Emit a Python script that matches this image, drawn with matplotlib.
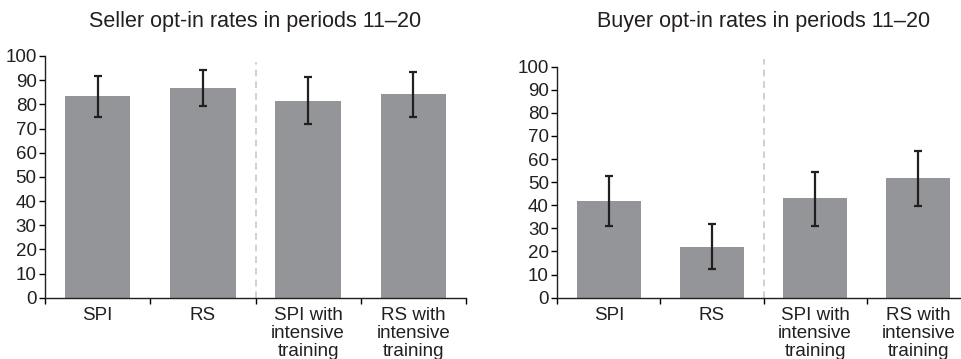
import matplotlib
matplotlib.use('Agg')
import matplotlib.pyplot as plt
import numpy as np

plt.rcParams['font.family'] = ['Liberation Sans', 'DejaVu Sans']

categories = ['SPI', 'RS', 'SPI with\nintensive\ntraining', 'RS with\nintensive\ntraining']

seller_rate = [83.3, 86.6, 81.4, 84.2]
seller_hi = [91.7, 94.1, 91.2, 93.5]
seller_lo = [74.8, 79.3, 71.9, 74.8]

buyer_rate = [41.7, 21.8, 43.0, 51.7]
buyer_hi = [52.7, 31.9, 54.4, 63.5]
buyer_lo = [31.2, 12.4, 31.2, 39.8]

yticks = list(range(0, 101, 10))

barcol = '#939598'
errcol = '#231f20'
W, H = 961, 359

fig = plt.figure(figsize=(W / 100, H / 100), dpi=100)


def panel(rect, rates, hi, lo, title, title_x, dash_top):
    ax = fig.add_axes(rect)
    x = np.arange(len(categories))
    rates = np.array(rates)
    yerr = [rates - np.array(lo), np.array(hi) - rates]
    ax.bar(x, rates, width=0.62, color=barcol, zorder=2)
    ax.errorbar(x, rates, yerr=yerr, fmt='none', ecolor=errcol,
                elinewidth=1.6, capsize=3, capthick=1.6, zorder=3)
    ax.set_xlim(-0.5, 3.5)
    ax.set_ylim(0, 100)
    ax.set_yticks(yticks)
    ax.set_xticks([-0.5, 0.5, 1.5, 2.5, 3.5])
    ax.set_xticklabels([])
    ax.set_xticks(x, minor=True)
    ax.set_xticklabels(categories, minor=True, linespacing=1.05)
    ax.tick_params(axis='x', which='minor', length=0, pad=7, labelsize=13.5,
                   labelcolor='#231f20')
    ax.tick_params(axis='x', which='major', length=4, width=1, direction='out')
    ax.tick_params(axis='y', length=4, width=1, labelsize=13.5, pad=2,
                   labelcolor='#231f20')
    for s in ['top', 'right']:
        ax.spines[s].set_visible(False)
    for s in ['left', 'bottom']:
        ax.spines[s].set_linewidth(1)
        ax.spines[s].set_color('#231f20')
    ax.plot([1.5, 1.5], [0, dash_top], ls=(0, (4, 3)), color='#c8c8c8',
            lw=1.2, clip_on=False, zorder=1)
    fig.text(title_x / W, 1 - 22 / H, title, ha='center', va='center',
             fontsize=15.5, color='#231f20')
    return ax


panel([45 / W, 1 - 297.7 / H, 421 / W, 241.7 / H], seller_rate, seller_hi, seller_lo,
      'Seller opt-in rates in periods 11\u201320', 255.5, 97.5)
panel([557.3 / W, 1 - 297.7 / H, 412.5 / W, 231 / H], buyer_rate, buyer_hi, buyer_lo,
      'Buyer opt-in rates in periods 11\u201320', 763.5, 103.2)

fig.savefig('out.png', dpi=100)
